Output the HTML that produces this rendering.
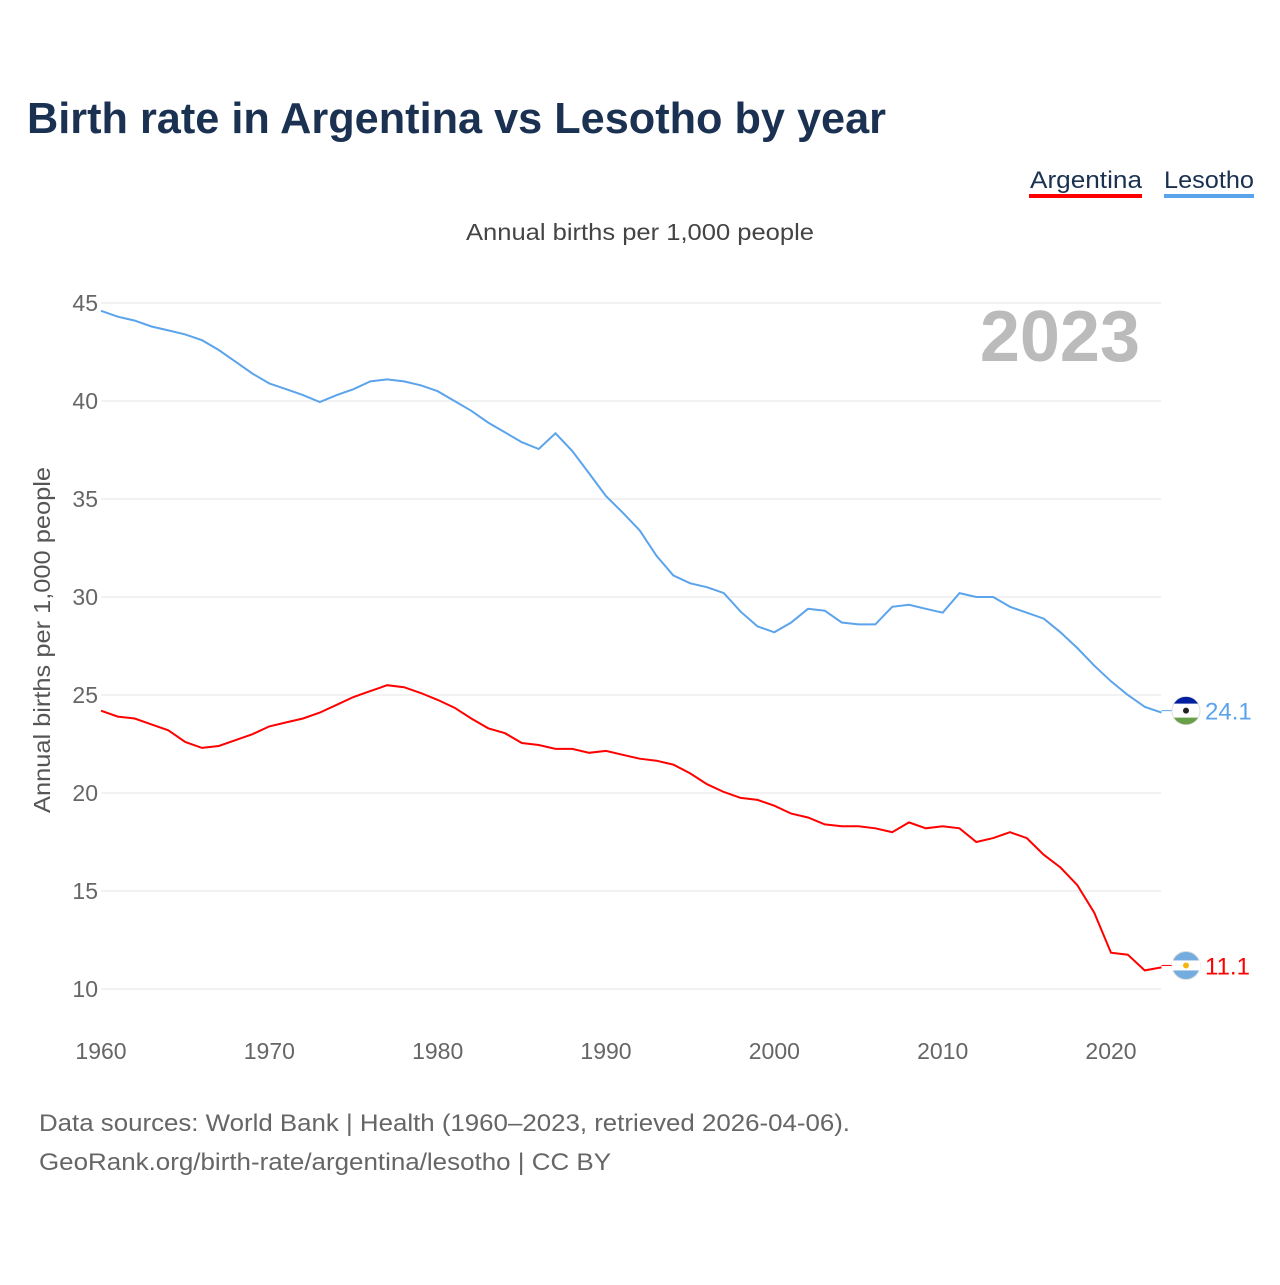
<!DOCTYPE html>
<html><head><meta charset="utf-8"><style>
body{margin:0;background:#fff;font-family:"Liberation Sans",sans-serif;}
</style></head><body>
<svg id="chart" width="1280" height="1280" viewBox="0 0 1280 1280" xmlns="http://www.w3.org/2000/svg" font-family="Liberation Sans, sans-serif">
<rect width="1280" height="1280" fill="#fff"/>
<text x="27" y="133" font-size="44" font-weight="bold" fill="#1a3152" textLength="859" lengthAdjust="spacingAndGlyphs">Birth rate in Argentina vs Lesotho by year</text>
<g><text x="1142" y="188" text-anchor="end" font-size="24" fill="#1a3152" textLength="112" lengthAdjust="spacingAndGlyphs">Argentina</text><rect x="1029" y="194" width="113" height="4" fill="#f00"/></g>
<g><text x="1254" y="188" text-anchor="end" font-size="24" fill="#1a3152" textLength="90" lengthAdjust="spacingAndGlyphs">Lesotho</text><rect x="1164" y="194" width="90" height="4" fill="#5ba4ec"/></g>
<text x="466" y="240" font-size="23" fill="#444" textLength="348" lengthAdjust="spacingAndGlyphs">Annual births per 1,000 people</text>
<text transform="translate(50,640) rotate(-90)" text-anchor="middle" font-size="23" fill="#555" textLength="346" lengthAdjust="spacingAndGlyphs">Annual births per 1,000 people</text>
<text x="1140" y="361" text-anchor="end" font-size="72" font-weight="bold" fill="#bbb">2023</text>
<g id="grid"></g><g id="series"></g>
<text x="39" y="1131" font-size="24" fill="#666" textLength="811" lengthAdjust="spacingAndGlyphs">Data sources: World Bank | Health (1960–2023, retrieved 2026-04-06).</text>
<text x="39" y="1170" font-size="24" fill="#666" textLength="572" lengthAdjust="spacingAndGlyphs">GeoRank.org/birth-rate/argentina/lesotho | CC BY</text>
</svg>
<script>
const startYear=1960;
const yTicks=[10,15,20,25,30,35,40,45];
const xTicks=[1960,1970,1980,1990,2000,2010,2020];
const lesotho=[44.6,44.3,44.1,43.8,43.6,43.4,43.1,42.6,42.0,41.4,40.9,40.6,40.3,39.95,40.3,40.6,41.0,41.1,41.0,40.8,40.5,40.0,39.5,38.9,38.4,37.9,37.55,38.35,37.45,36.3,35.15,34.3,33.4,32.1,31.1,30.7,30.5,30.2,29.25,28.5,28.2,28.7,29.4,29.3,28.7,28.6,28.6,29.5,29.6,29.4,29.2,30.2,30.0,30.0,29.5,29.2,28.9,28.2,27.4,26.5,25.7,25.0,24.4,24.1];
const argentina=[24.2,23.9,23.8,23.5,23.2,22.6,22.3,22.4,22.7,23.0,23.4,23.6,23.8,24.1,24.5,24.9,25.2,25.5,25.4,25.1,24.75,24.35,23.8,23.3,23.05,22.55,22.45,22.25,22.25,22.05,22.15,21.95,21.75,21.65,21.45,21.0,20.45,20.05,19.75,19.65,19.35,18.95,18.75,18.4,18.3,18.3,18.2,18.0,18.5,18.2,18.3,18.2,17.5,17.7,18.0,17.7,16.85,16.2,15.3,13.9,11.85,11.75,10.95,11.1];
const NS='http://www.w3.org/2000/svg';
const X=yr=>101+(yr-1960)*(1010/60);
const Y=v=>303+(45-v)*(686/35);
function el(t,a,p){const e=document.createElementNS(NS,t);for(const k in a)e.setAttribute(k,a[k]);p.appendChild(e);return e;}
const grid=document.getElementById('grid'),ser=document.getElementById('series');
yTicks.forEach(v=>{
 const l=el('line',{x1:101,x2:1161,y1:Y(v),y2:Y(v),stroke:'#e4e4e4','stroke-width':1},grid);
 
 
 const t=el('text',{x:98,y:Y(v)+8,'text-anchor':'end','font-size':23,fill:'#666'},grid);t.textContent=v;
 
 
});
xTicks.forEach(yr=>{
 const t=el('text',{x:X(yr),y:1059,'text-anchor':'middle','font-size':23,fill:'#666'},grid);t.textContent=yr;
 
 
});
function line(data,color,name){
 const d=data.map((v,i)=>(i?'L':'M')+X(startYear+i).toFixed(1)+','+Y(v).toFixed(1)).join('');
 const p=el('path',{d:d,fill:'none',stroke:color,'stroke-width':2},ser);
 
 
 const last=data[data.length-1],lx=X(startYear+data.length-1),ly=Y(last)-2;
 el('line',{x1:lx,x2:1175,y1:ly,y2:ly,stroke:color,'stroke-width':1},ser);
 const c=el('circle',{cx:1186,cy:ly,r:14,fill:name==='lesotho'?'#fff':'#74acdf',stroke:'#ddd'},ser);
 
 
 if(name==='lesotho'){el('path',{d:`M1174,${ly-7}A14,14 0 0 1 1198,${ly-7}Z`,fill:'#00209f'},ser);el('path',{d:`M1174,${ly+7}A14,14 0 0 0 1198,${ly+7}Z`,fill:'#6a9f4a'},ser);el('circle',{cx:1186,cy:ly,r:3,fill:'#222'},ser);}
 else{el('rect',{x:1172,y:ly-5,width:28,height:10,fill:'#fff'},ser);el('circle',{cx:1186,cy:ly,r:3,fill:'#f6b40e'},ser);}
 const t=el('text',{x:1205,y:ly+9,'font-size':24,fill:color},ser);t.textContent=last.toFixed(1);
 
 
}
line(lesotho,'#5ba4ec','lesotho');
line(argentina,'#f00','argentina');
</script>
</body></html>
